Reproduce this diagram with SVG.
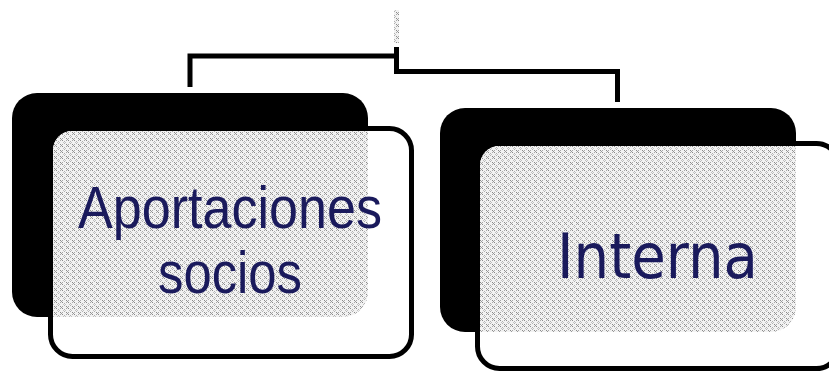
<svg xmlns="http://www.w3.org/2000/svg" width="829" height="371" viewBox="0 0 829 371">
<style>
.back{fill:#000;}
.front{fill:#fff;stroke:#000;stroke-width:5;}
.conn{fill:none;stroke:#000;stroke-width:5;stroke-linejoin:miter;}
.lbl{fill:#1a1a5c;}
</style>
<defs>
<pattern id="dots" width="6" height="6" patternUnits="userSpaceOnUse">
<rect width="6" height="6" fill="#f2f2f2"/>
<rect x="0" y="0" width="1" height="1" fill="#8a8a8a"/>
<rect x="2" y="0" width="1" height="1" fill="#a8a8a8"/>
<rect x="1" y="1" width="1" height="1" fill="#9a9a9a"/>
<rect x="0" y="2" width="1" height="1" fill="#a8a8a8"/>
<rect x="2" y="2" width="1" height="1" fill="#8a8a8a"/>
<rect x="4" y="3" width="1" height="1" fill="#b0b0b0"/>
<rect x="3" y="4" width="1" height="1" fill="#c0c0c0"/>
<rect x="5" y="4" width="1" height="1" fill="#c0c0c0"/>
<rect x="4" y="5" width="1" height="1" fill="#b0b0b0"/>
</pattern>
<clipPath id="c1"><rect x="12" y="93" width="356" height="224" rx="25"/></clipPath>
<clipPath id="c2"><rect x="440" y="108" width="356" height="224" rx="25"/></clipPath>
</defs>
<g id="connectors">
<rect x="394" y="10" width="5" height="33" fill="url(#dots)"/>
<polyline class="conn" points="190,87 190,56 397,56"/>
<polyline class="conn" points="396.5,47 396.5,71.5 617.5,71.5 617.5,102"/>
</g>
<g id="node-aportaciones">
<rect class="back" x="12" y="93" width="356" height="224" rx="25"/>
<rect class="front" x="50.5" y="128.5" width="361" height="228" rx="22"/>
<rect x="53" y="131" width="356" height="223" rx="19" fill="url(#dots)" clip-path="url(#c1)"/>
<text class="lbl" x="230" y="228" font-family="Liberation Sans, Arial, sans-serif" font-size="60" text-anchor="middle" textLength="304" lengthAdjust="spacingAndGlyphs">Aportaciones</text>
<text class="lbl" x="230" y="293" font-family="Liberation Sans, Arial, sans-serif" font-size="60" text-anchor="middle" textLength="144" lengthAdjust="spacingAndGlyphs">socios</text>
</g>
<g id="node-interna">
<rect class="back" x="440" y="108" width="356" height="224" rx="25"/>
<rect class="front" x="477.5" y="143.5" width="361" height="225" rx="22"/>
<rect x="480" y="146" width="356" height="220" rx="19" fill="url(#dots)" clip-path="url(#c2)"/>
<text class="lbl" x="657.5" y="278" font-family="DejaVu Sans, Verdana, sans-serif" font-size="62" text-anchor="middle" textLength="201" lengthAdjust="spacingAndGlyphs">Interna</text>
</g>
</svg>
